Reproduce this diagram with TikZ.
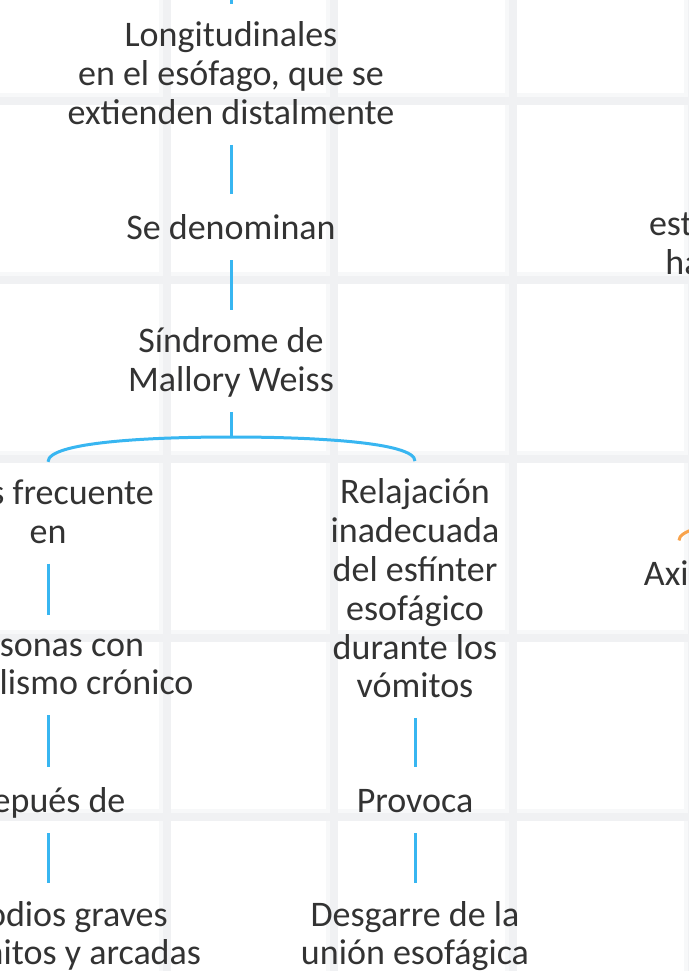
\documentclass[tikz,border=0pt]{standalone}
\usepackage{fontspec}
\setmainfont{Carlito}
\usepackage{tikz}

\definecolor{gridlight}{HTML}{F7F8F9}
\definecolor{griddark}{HTML}{F0F1F3}
\definecolor{linkblue}{HTML}{38B6F1}
\definecolor{linkorange}{HTML}{F8A34C}
\definecolor{textgray}{HTML}{333333}

\begin{document}
\begin{tikzpicture}[x=0.5pt,y=-0.5pt,
	concept/.style={align=center, inner sep=0pt, text=textgray,
		font=\fontsize{18}{19.4}\selectfont,
		execute at begin node=\strut, execute at end node=\strut},
	link/.style={draw=linkblue, line width=1.5pt, shorten <=4.25pt, shorten >=8.75pt},
	linkor/.style={link, draw=linkorange}]

	\useasboundingbox (0,0) rectangle (689,971);
	\clip (0,0) rectangle (689,971);

	% Grid
	\foreach \gx in {165,332,511,690}
		\fill[gridlight] (\gx-6,0) rectangle (\gx+6,971);
	\foreach \gy in {99,278,457,636,815}
		\fill[gridlight] (0,\gy-6) rectangle (689,\gy+6);
	\foreach \gx in {165,332,511,690}
		\fill[griddark] (\gx-2,0) rectangle (\gx+6,971);
	\foreach \gy in {99,278,457,636,815}
		\fill[griddark] (0,\gy-2) rectangle (689,\gy+6);

	% Main column
	\coordinate(origen) at (231,-40);
	\node[concept](longi) at (231,78.75) {Longitudinales\\en el esófago, que se\\extienden distalmente};
	\node[concept](seden) at (231,231.75) {Se denominan};
	\node[concept](sindrome) at (231,365.25) {Síndrome de\\Mallory Weiss};
	\coordinate(fork) at (231,437);

	% Left branch
	\node[concept](masfrec) at (48,517.25) {Más frecuente\\en};
	\node[concept](personas) at (48,669.75) {Personas con\\alcoholismo crónico};
	\node[concept](depues) at (48,804.75) {Depués de};
	\node[concept](episodios) at (48,938.75) {Episodios graves\\de vómitos y arcadas};

	% Right branch
	\node[concept](relaj) at (415,594.25) {Relajación\\inadecuada\\del esfínter\\esofágico\\durante los\\vómitos};
	\node[concept](provoca) at (415,804.75) {Provoca};
	\node[concept](desgarre) at (415,938.75) {Desgarre de la\\unión esofágica};

	% Neighbour map
	\node[concept](estomago) at (721,248.75) {estómago\\hacia el};
	\node[concept](axial) at (679,577.75) {Axial};
	\coordinate(hiato) at (860,516);

	% Links
	\draw[link, shorten <=0pt] (origen) -- (longi);
	\draw[link] (longi) -- (seden);
	\draw[link] (seden) -- (sindrome);
	\draw[link, shorten >=0pt] (sindrome) -- (fork);
	\draw[link, shorten <=0pt] (fork) .. controls (150,437) and (48,442) .. (masfrec);
	\draw[link, shorten <=0pt] (fork) .. controls (312,437) and (415,442) .. (relaj);
	\draw[link] (masfrec) -- (personas);
	\draw[link] (personas) -- (depues);
	\draw[link] (depues) -- (episodios);
	\draw[link] (relaj) -- (provoca);
	\draw[link] (provoca) -- (desgarre);
	\draw[linkor, shorten <=0pt] (hiato) .. controls (780,516) and (679,521) .. (axial);
\end{tikzpicture}
\end{document}
